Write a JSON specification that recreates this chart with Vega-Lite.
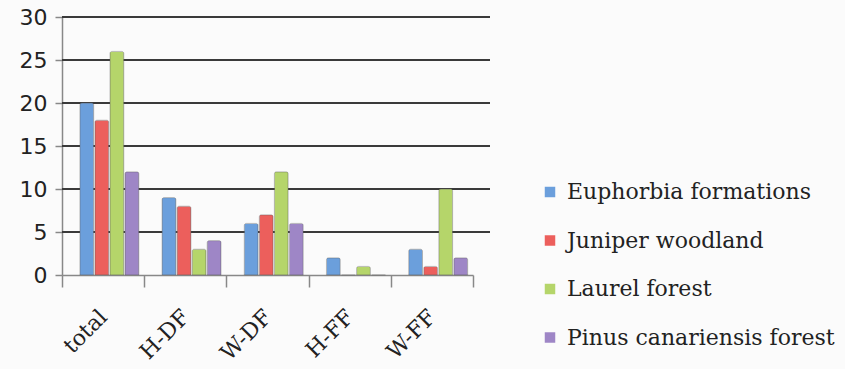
{
  "$schema": "https://vega.github.io/schema/vega-lite/v6.json",
  "autosize": {"type": "none"},
  "padding": {"left": 62, "top": 17, "right": 355, "bottom": 94},
  "width": 428,
  "height": 258,
  "background": "#fbfbfb",
  "layer": [
    {
      "data": {"values": [{"g": 5}, {"g": 10}, {"g": 15}, {"g": 20}, {"g": 25}, {"g": 30}]},
      "mark": {"type": "rule", "color": "#3a3a3a", "strokeWidth": 1.8},
      "encoding": {
        "y": {
          "field": "g", "type": "quantitative", "scale": {"domain": [0, 30], "nice": false},
          "axis": {
            "title": null, "values": [0, 5, 10, 15, 20, 25, 30],
            "labelFont": "DejaVu Sans", "labelFontSize": 22, "labelColor": "#222",
            "labelPadding": 8, "domainColor": "#888", "domainWidth": 1.5,
            "tickColor": "#888", "tickSize": 7, "tickWidth": 1.5,
            "grid": false
          }
        }
      }
    },
    {
      "data": {"values": [
        {"cat": "total", "type": "Euphorbia formations", "v": 20},
        {"cat": "total", "type": "Juniper woodland", "v": 18},
        {"cat": "total", "type": "Laurel forest", "v": 26},
        {"cat": "total", "type": "Pinus canariensis forest", "v": 12},
        {"cat": "H-DF", "type": "Euphorbia formations", "v": 9},
        {"cat": "H-DF", "type": "Juniper woodland", "v": 8},
        {"cat": "H-DF", "type": "Laurel forest", "v": 3},
        {"cat": "H-DF", "type": "Pinus canariensis forest", "v": 4},
        {"cat": "W-DF", "type": "Euphorbia formations", "v": 6},
        {"cat": "W-DF", "type": "Juniper woodland", "v": 7},
        {"cat": "W-DF", "type": "Laurel forest", "v": 12},
        {"cat": "W-DF", "type": "Pinus canariensis forest", "v": 6},
        {"cat": "H-FF", "type": "Euphorbia formations", "v": 2},
        {"cat": "H-FF", "type": "Juniper woodland", "v": 0},
        {"cat": "H-FF", "type": "Laurel forest", "v": 1},
        {"cat": "H-FF", "type": "Pinus canariensis forest", "v": 0},
        {"cat": "W-FF", "type": "Euphorbia formations", "v": 3},
        {"cat": "W-FF", "type": "Juniper woodland", "v": 1},
        {"cat": "W-FF", "type": "Laurel forest", "v": 10},
        {"cat": "W-FF", "type": "Pinus canariensis forest", "v": 2}
      ]},
      "mark": {"type": "bar", "stroke": "#666", "strokeWidth": 0.6, "strokeOpacity": 0.6, "cornerRadiusTopLeft": 2, "cornerRadiusTopRight": 2},
      "encoding": {
        "x": {
          "field": "cat", "type": "nominal", "sort": ["total", "H-DF", "W-DF", "H-FF", "W-FF"],
          "scale": {"paddingInner": 0, "paddingOuter": 0, "range": [0, 411]},
          "axis": {
            "title": null, "labelAngle": -45, "labelAlign": "right", "labelBaseline": "middle",
            "labelFont": "DejaVu Serif", "labelFontSize": 22, "labelColor": "#222",
            "labelPadding": 26, "domainColor": "#888", "domainWidth": 1.5,
            "tickColor": "#888", "tickSize": 12, "tickWidth": 1.5, "tickBand": "extent"
          }
        },
        "xOffset": {"field": "type", "type": "nominal", "scale": {"paddingInner": 0.08, "paddingOuter": 0.77, "align": 0.77}},
        "y": {
          "field": "v", "type": "quantitative",
          "scale": {"domain": [0, 30], "nice": false}
        },
        "color": {
          "field": "type", "type": "nominal",
          "scale": {
            "domain": ["Euphorbia formations", "Juniper woodland", "Laurel forest", "Pinus canariensis forest"],
            "range": ["#6b9fdc", "#ec5f5c", "#b5d56a", "#9e86c6"]
          },
          "legend": {
            "title": null, "orient": "none", "legendX": 477, "legendY": 164,
            "symbolType": "square", "symbolSize": 110, "symbolStrokeWidth": 0,
            "labelFont": "DejaVu Serif", "labelFontSize": 22, "labelColor": "#222",
            "labelOffset": 6, "rowPadding": 26.5, "labelLimit": 400
          }
        }
      }
    }
  ],
  "config": {"view": {"stroke": null}}
}
